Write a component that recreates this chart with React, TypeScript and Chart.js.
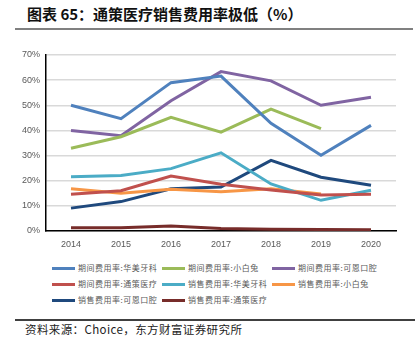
import React, { useEffect, useRef } from "react";
import { Chart, registerables } from "chart.js";

Chart.register(...registerables);

const years = ["2014", "2015", "2016", "2017", "2018", "2019", "2020"];

const periodHuamei = [50, 44.7, 59, 61.6, 42.8, 30.1, 42];
const periodXiaobaitu = [32.9, 37.5, 45.2, 39.3, 48.5, 40.7, null];
const periodKeen = [40, 37.9, 51.8, 63.4, 59.7, 50, 53.2];
const periodTongce = [14.6, 16, 21.9, 18.6, 16.3, 14.3, 14.6];
const salesHuamei = [21.6, 22.1, 24.8, 31.1, 18.7, 12.2, 16.2];
const salesXiaobaitu = [16.8, 15, 16.6, 15.6, 16.8, 14.7, null];
const salesKeen = [9.1, 11.7, 16.8, 17.5, 28.1, 21.4, 18.2];
const salesTongce = [1.3, 1.3, 2.0, 1.0, 0.7, 0.6, 0.5];

const seriesNames = [
  "期间费用率:华美牙科",
  "期间费用率:小白兔",
  "期间费用率:可恩口腔",
  "期间费用率:通策医疗",
  "销售费用率:华美牙科",
  "销售费用率:小白兔",
  "销售费用率:可恩口腔",
  "销售费用率:通策医疗",
];
const seriesData = [
  periodHuamei,
  periodXiaobaitu,
  periodKeen,
  periodTongce,
  salesHuamei,
  salesXiaobaitu,
  salesKeen,
  salesTongce,
];
const seriesColors = [
  "#4F81BD",
  "#9BBB59",
  "#8064A2",
  "#C0504D",
  "#4BACC6",
  "#F79646",
  "#1F497D",
  "#772C2A",
];

const yTicks = [0, 10, 20, 30, 40, 50, 60, 70];

const tickFont = "'Liberation Sans Narrow', 'Liberation Sans', Arial, sans-serif";
const cjk = "'Noto Sans CJK SC', sans-serif";

export default function App() {
  const ref = useRef<HTMLCanvasElement | null>(null);

  useEffect(() => {
    document.body.style.margin = "0";
    const ctx = ref.current!;
    const chart = new Chart(ctx, {
      type: "line",
      data: {
        labels: years,
        datasets: seriesNames.map((n, i) => ({
          label: n,
          data: seriesData[i],
          borderColor: seriesColors[i],
          backgroundColor: seriesColors[i],
          borderWidth: 3,
          pointRadius: 0,
          tension: 0,
          fill: false,
        })),
      },
      options: {
        animation: false,
        responsive: false,
        maintainAspectRatio: false,
        layout: { padding: { left: 0, right: 14, top: 15, bottom: 0 } },
        plugins: { legend: { display: false }, tooltip: { enabled: false } },
        scales: {
          x: {
            offset: true,
            grid: { display: false, drawTicks: false },
            border: { display: true, color: "#000", width: 1.5 },
            ticks: {
              color: "#595959",
              font: { family: tickFont, size: 9 },
              padding: 8,
              maxRotation: 0,
            },
            afterFit: (s: any) => {
              s.height = 24;
            },
          },
          y: {
            min: 0,
            max: 70,
            afterBuildTicks: (s: any) => {
              s.ticks = yTicks.map((v) => ({ value: v }));
            },
            grid: { color: "#d9d9d9", lineWidth: 1.5, drawTicks: false },
            border: { display: true, color: "#000", width: 1.5 },
            ticks: {
              color: "#595959",
              font: { family: tickFont, size: 9 },
              padding: 6,
              callback: (v: any) => v + "%",
            },
            afterFit: (s: any) => {
              s.width = 46;
            },
          },
        },
      },
    });
    return () => chart.destroy();
  }, []);

  const legendCols = [52, 162, 272];
  const legendRows = [268, 284, 300];

  return (
    <div
      style={{
        position: "absolute",
        left: 0,
        top: 0,
        width: 420,
        height: 353,
        background: "#fff",
        overflow: "hidden",
      }}
    >
      <div
        style={{
          position: "absolute",
          left: 27,
          top: 4,
          fontFamily: cjk,
          fontWeight: 700,
          fontSize: 15,
          lineHeight: "20px",
          color: "#111",
          whiteSpace: "nowrap",
        }}
      >
        图表 65：通策医疗销售费用率极低（%）
      </div>
      <div
        style={{
          position: "absolute",
          left: 15,
          top: 28,
          width: 398,
          height: 2,
          background: "#808080",
        }}
      />
      <canvas
        ref={ref}
        width={410}
        height={215}
        style={{ position: "absolute", left: 0, top: 40, width: 410, height: 215 }}
      />
      {seriesNames.map((n, i) => {
        const col = i % 3;
        const row = Math.floor(i / 3);
        return (
          <div
            key={n}
            style={{
              position: "absolute",
              left: legendCols[col],
              top: legendRows[row] - 6,
              height: 12,
              display: "flex",
              alignItems: "center",
              whiteSpace: "nowrap",
            }}
          >
            <div
              style={{
                width: 23,
                height: 3,
                background: seriesColors[i],
                marginRight: 3,
              }}
            />
            <span
              style={{
                fontFamily: cjk,
                fontSize: 8,
                letterSpacing: 0.5,
                color: "#595959",
                lineHeight: "12px",
              }}
            >
              {n}
            </span>
          </div>
        );
      })}
      <div
        style={{
          position: "absolute",
          left: 15,
          top: 319,
          width: 400,
          height: 1.5,
          background: "#404040",
        }}
      />
      <div
        style={{
          position: "absolute",
          left: 25,
          top: 321,
          fontFamily: cjk,
          fontSize: 11.5,
          letterSpacing: 0.4,
          lineHeight: "16px",
          color: "#222",
          whiteSpace: "nowrap",
        }}
      >
        资料来源：Choice，东方财富证券研究所
      </div>
    </div>
  );
}
